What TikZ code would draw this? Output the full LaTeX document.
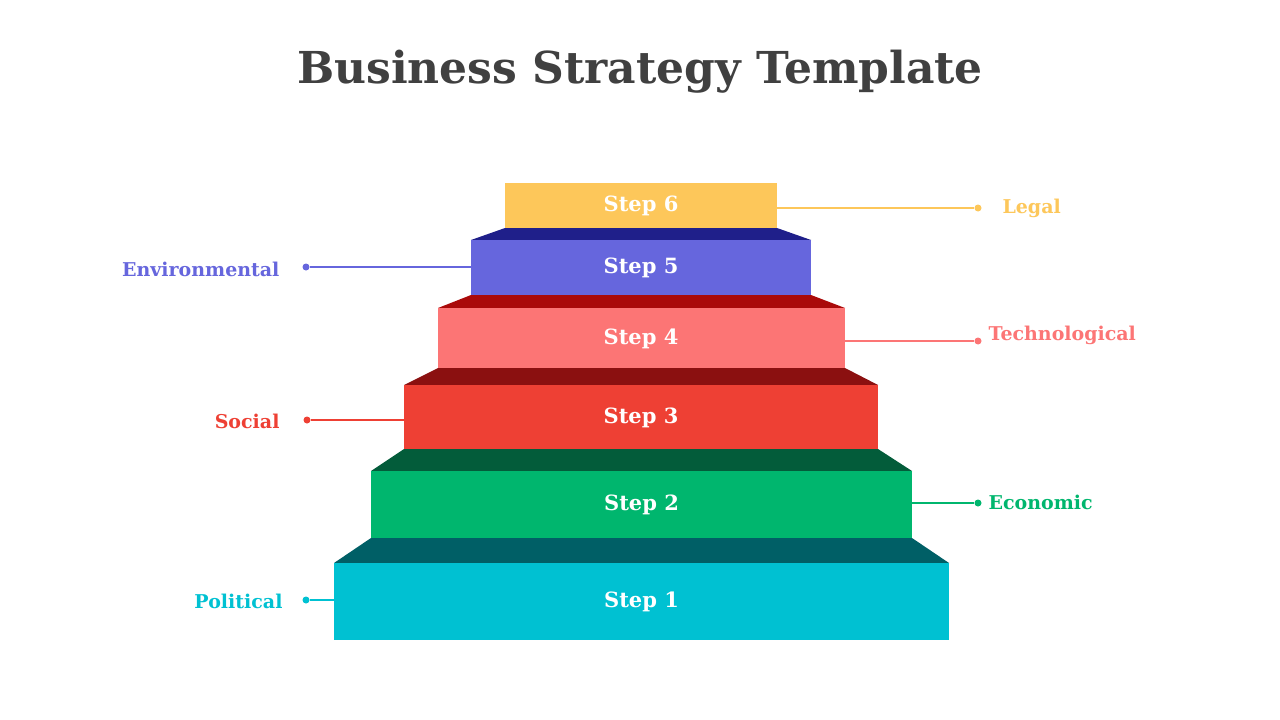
\documentclass[tikz,border=0pt]{standalone}
\usepackage{fontspec}
\setmainfont{DejaVu Serif}
\begin{document}
\begin{tikzpicture}[x=1pt,y=-1pt,
  steptxt/.style={text=white,font=\fontsize{21}{24}\selectfont\bfseries},
  lbl/.style={font=\fontsize{19}{22}\selectfont\bfseries},
  conn/.style={line width=1.5pt},
  dotc/.style={circle,fill,inner sep=0pt,minimum size=7pt}]
\useasboundingbox[fill=white] (0,0) rectangle (1280,720);
\node[font=\fontsize{44}{50}\selectfont\bfseries,text=black!75] (title) at (640,72) {Business Strategy Template};
% step 1
\fill[fill={rgb,255:red,0;green,95;blue,102}] (371,538)--(912,538)--(949,563)--(334,563)--cycle;
\fill[fill={rgb,255:red,0;green,193;blue,210}] (334,563) rectangle (949,640);
\node[steptxt] (s1) at (641.5,602) {Step 1};
% step 2
\fill[fill={rgb,255:red,3;green,92;blue,58}] (404,449)--(878,449)--(912,471)--(371,471)--cycle;
\fill[fill={rgb,255:red,0;green,182;blue,110}] (371,471) rectangle (912,538);
\node[steptxt] (s2) at (641.5,505) {Step 2};
% step 3
\fill[fill={rgb,255:red,139;green,16;blue,16}] (438,368)--(845,368)--(878,385)--(404,385)--cycle;
\fill[fill={rgb,255:red,238;green,64;blue,52}] (404,385) rectangle (878,449);
\node[steptxt] (s3) at (641,418) {Step 3};
% step 4
\fill[fill={rgb,255:red,170;green,10;blue,10}] (471,295)--(811,295)--(845,308)--(438,308)--cycle;
\fill[fill={rgb,255:red,252;green,117;blue,117}] (438,308) rectangle (845,368);
\node[steptxt] (s4) at (641,339) {Step 4};
% step 5
\fill[fill={rgb,255:red,31;green,31;blue,138}] (505,228)--(777,228)--(811,240)--(471,240)--cycle;
\fill[fill={rgb,255:red,102;green,102;blue,221}] (471,240) rectangle (811,295);
\node[steptxt] (s5) at (641,268) {Step 5};
% step 6
\fill[fill={rgb,255:red,253;green,199;blue,90}] (505,183) rectangle (777,228);
\node[steptxt] (s6) at (641,206) {Step 6};
% labels
\definecolor{cy}{RGB}{253,199,90}
\definecolor{cp}{RGB}{102,102,221}
\definecolor{cr}{RGB}{252,117,117}
\definecolor{cs}{RGB}{238,64,52}
\definecolor{cg}{RGB}{0,182,110}
\definecolor{cc}{RGB}{0,193,210}
\coordinate (a6) at (777,208); \node[dotc,cy] (d6) at (978,208) {};
\draw[conn,cy] (a6)--(d6); \node[lbl,text=cy,anchor=west] (l6) at (999,208) {Legal};
\coordinate (a5) at (471,267); \node[dotc,cp] (d5) at (306,267) {};
\draw[conn,cp] (a5)--(d5); \node[lbl,text=cp,anchor=east] (l5) at (283,269) {Environmental};
\coordinate (a4) at (845,341); \node[dotc,cr] (d4) at (978,341) {};
\draw[conn,cr] (a4)--(d4); \node[lbl,text=cr,anchor=west] (l4) at (985,335) {Technological};
\coordinate (a3) at (404,420); \node[dotc,cs] (d3) at (307,420) {};
\draw[conn,cs] (a3)--(d3); \node[lbl,text=cs,anchor=east] (l3) at (283,421) {Social};
\coordinate (a2) at (912,503); \node[dotc,cg] (d2) at (978,503) {};
\draw[conn,cg] (a2)--(d2); \node[lbl,text=cg,anchor=west] (l2) at (985,502) {Economic};
\coordinate (a1) at (334,600); \node[dotc,cc] (d1) at (306,600) {};
\draw[conn,cc] (a1)--(d1); \node[lbl,text=cc,anchor=east] (l1) at (286,601) {Political};
\end{tikzpicture}
\end{document}
